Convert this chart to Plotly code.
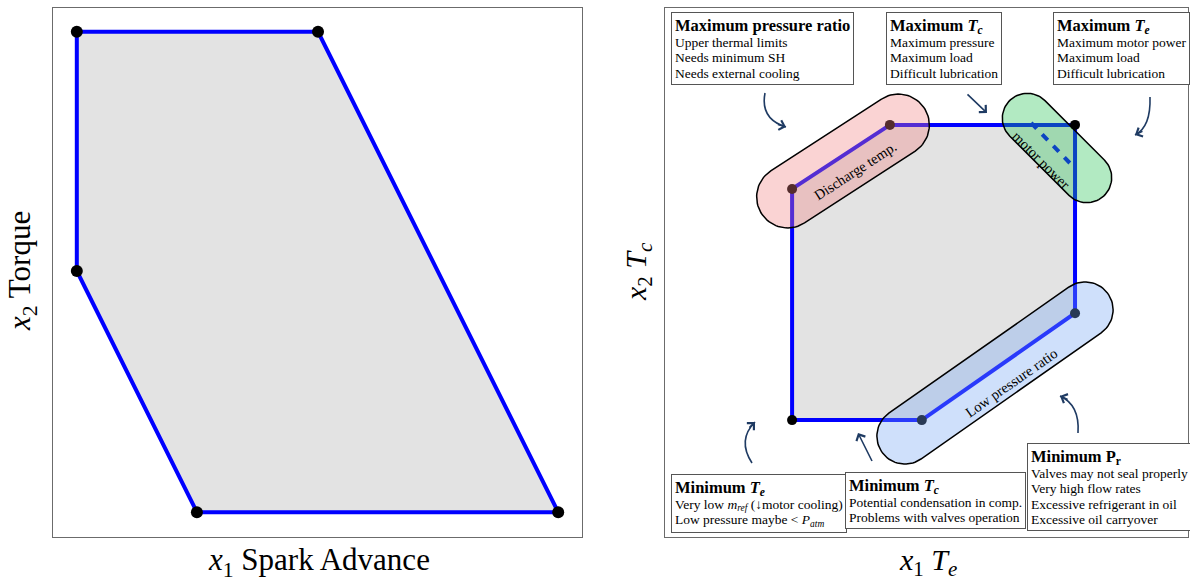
import numpy as np
import plotly.graph_objects as go

# ---------------- data ----------------
# Left panel: engine operating envelope (spark advance vs torque)
spark = [4.5, 50.1, 95.5, 27.2, 4.5]
torque = [95.5, 95.5, 4.7, 4.7, 50.3]

# Right panel: compressor operating envelope (Te vs Tc)
te = [24.3, 43.0, 78.4, 78.4, 49.1, 24.3]
tc = [65.8, 77.9, 77.9, 42.3, 22.1, 22.1]

# motor-power limit (dashed)
motor_te = [70.0, 77.4]
motor_tc = [78.3, 70.7]

# ---------------- layout constants ----------------
W, H = 1190, 583
LX0, LX1 = 53, 582
RX0, RX1 = 665, 1188
YT, YB = 8, 537
FONT = "Liberation Serif"
BLUE = "#0000ff"
NAVY = "#1f3b63"


def px2paper(x, y):
    return x / W, 1 - y / H


def px2right(x, y):
    return (x - RX0) / (RX1 - RX0) * 100, (YB - y) / (YB - YT) * 100


def capsule(cx, cy, ang_deg, half_len, rad, n=40):
    """Stadium outline in screen pixels, returned in right-axis data units."""
    a = np.deg2rad(ang_deg)
    u = np.array([np.cos(a), np.sin(a)])
    c = np.array([cx, cy])
    pts = []
    for sgn, start in ((1, a - np.pi / 2), (-1, a + np.pi / 2)):
        cc = c + sgn * half_len * u
        for t in np.linspace(start, start + np.pi, n):
            pts.append(cc + rad * np.array([np.cos(t), np.sin(t)]))
    pts.append(pts[0])
    xs, ys = zip(*[px2right(p[0], p[1]) for p in pts])
    return list(xs), list(ys)


def note(title, lines):
    head = f"<span style='font-size:16.5px'><b>{title}</b></span>"
    body = [f"<span style='font-size:13.5px'>{ln}</span>" for ln in lines]
    return "<br>".join([head] + body)


fig = go.Figure()

# ---- left envelope ----
fig.add_trace(go.Scatter(
    x=spark + spark[:1], y=torque + torque[:1], mode="lines",
    fill="toself", fillcolor="#e3e3e3",
    line=dict(color=BLUE, width=4), xaxis="x", yaxis="y", hoverinfo="skip"))
fig.add_trace(go.Scatter(
    x=spark, y=torque, mode="markers",
    marker=dict(color="black", size=12), xaxis="x", yaxis="y"))

# ---- right envelope ----
fig.add_trace(go.Scatter(
    x=te + te[:1], y=tc + tc[:1], mode="lines",
    fill="toself", fillcolor="#e3e3e3",
    line=dict(color=BLUE, width=4), xaxis="x2", yaxis="y2", hoverinfo="skip"))
fig.add_trace(go.Scatter(
    x=motor_te, y=motor_tc, mode="lines",
    line=dict(color=BLUE, width=4, dash="8px,8px"), xaxis="x2", yaxis="y2"))
fig.add_trace(go.Scatter(
    x=te, y=tc, mode="markers",
    marker=dict(color="black", size=10), xaxis="x2", yaxis="y2"))

# ---- constraint regions ----
regions = [
    # (center px, angle, half length, radius, fill)
    ((843, 161), -33, 66, 31, "rgba(241,129,129,0.35)"),
    ((1057, 148), 45, 42, 25, "rgba(35,195,81,0.35)"),
    ((995, 373), -35, 110, 28, "rgba(118,166,244,0.35)"),
]
for (cx, cy), ang, hl, rad, col in regions:
    xs, ys = capsule(cx, cy, ang, hl, rad)
    fig.add_trace(go.Scatter(
        x=xs, y=ys, mode="lines", fill="toself", fillcolor=col,
        line=dict(color="black", width=1.5), xaxis="x2", yaxis="y2",
        hoverinfo="skip"))

annotations = []

# region labels
for text, (lx, ly), ang in [("Discharge temp.", (855, 171), -33),
                            ("motor power", (1041, 160), 45),
                            ("Low pressure ratio", (1011, 383), -35)]:
    dx, dy = px2right(lx, ly)
    annotations.append(dict(x=dx, y=dy, xref="x2", yref="y2", text=text,
                            showarrow=False, textangle=ang,
                            font=dict(family=FONT, size=14.5, color="black")))

# note boxes
notes = [
    ((671, 12), note("Maximum pressure ratio",
                     ["Upper thermal limits", "Needs minimum SH",
                      "Needs external cooling"])),
    ((886, 12), note("Maximum <i>T<sub>c</sub></i>",
                     ["Maximum pressure", "Maximum load", "Difficult lubrication"])),
    ((1053, 12), note("Maximum <i>T<sub>e</sub></i>",
                      ["Maximum motor power", "Maximum load",
                       "Difficult lubrication"])),
    ((671, 474), note("Minimum <i>T<sub>e</sub></i>",
                      ["Very low <i>m<sub>ref</sub></i> (↓motor cooling)",
                       "Low pressure maybe &lt; <i>P<sub>atm</sub></i>"])),
    ((845, 472), note("Minimum <i>T<sub>c</sub></i>",
                      ["Potential condensation in comp.",
                       "Problems with valves operation"])),
    ((1027, 443), note("Minimum P<sub>r</sub>",
                       ["Valves may not seal properly", "Very high flow rates",
                        "Excessive refrigerant in oil", "Excessive oil carryover"])),
]
for (bx, by), text in notes:
    x, y = px2paper(bx, by)
    annotations.append(dict(x=x, y=y, xref="paper", yref="paper",
                            xanchor="left", yanchor="top", align="left",
                            text=text, showarrow=False,
                            bordercolor="#555555", borderwidth=1, borderpad=3,
                            bgcolor="white",
                            font=dict(family=FONT, size=12, color="black")))

# pointer arrows: curved ones (start, control, tip) and straight ones (start, tip)
shapes = []
curved = [((765, 93), (760, 119), (786, 127)),
          ((1150, 97), (1151, 127), (1135, 135)),
          ((752, 463), (737, 440), (755, 422)),
          ((1078, 433), (1080, 405), (1060, 396))]
straight = [((966, 93), (987, 113)), ((873, 463), (858, 433))]
for (sx, sy), (cx, cy), (tx, ty) in curved:
    p0, p1, p2 = px2paper(sx, sy), px2paper(cx, cy), px2paper(tx, ty)
    shapes.append(dict(type="path", xref="paper", yref="paper",
                       path=f"M {p0[0]},{p0[1]} Q {p1[0]},{p1[1]} {p2[0]},{p2[1]}",
                       line=dict(color=NAVY, width=1.6)))
    v = np.array([cx - tx, cy - ty], float)
    v = v / np.linalg.norm(v) * 10
    x, y = px2paper(tx, ty)
    annotations.append(dict(x=x, y=y, xref="paper", yref="paper",
                            ax=v[0], ay=v[1], text=" ", showarrow=True,
                            arrowhead=4, arrowsize=1.2, arrowwidth=1.6,
                            arrowcolor=NAVY, standoff=0, font=dict(size=1)))
for (sx, sy), (tx, ty) in straight:
    x, y = px2paper(tx, ty)
    annotations.append(dict(x=x, y=y, xref="paper", yref="paper",
                            ax=sx - tx, ay=sy - ty, text=" ", showarrow=True,
                            arrowhead=4, arrowsize=1.2, arrowwidth=1.6,
                            arrowcolor=NAVY, standoff=0, font=dict(size=1)))

# axis titles
titles = [
    ("<i>x</i><sub>1</sub> Spark Advance", (319, 562), 0, 31),
    ("<i>x</i><sub>2</sub> Torque", (22, 271), -90, 31),
    ("<i>x</i><sub>1</sub> <i>T<sub>e</sub></i>", (928, 562), 0, 30),
    ("<i>x</i><sub>2</sub> <i>T<sub>c</sub></i>", (638, 272), -90, 30),
]
for text, (tx, ty), ang, fs in titles:
    x, y = px2paper(tx, ty)
    annotations.append(dict(x=x, y=y, xref="paper", yref="paper",
                            xanchor="center", yanchor="middle", text=text,
                            textangle=ang, showarrow=False,
                            font=dict(family=FONT, size=fs, color="black")))

axis_common = dict(range=[0, 100], showgrid=False, zeroline=False,
                   showticklabels=False, ticks="", showline=True, mirror=True,
                   linecolor="#6b6b6b", linewidth=1, fixedrange=True)
ydom = [1 - YB / H, 1 - YT / H]
fig.update_layout(
    width=W, height=H, margin=dict(l=0, r=0, t=0, b=0),
    paper_bgcolor="white", plot_bgcolor="white", showlegend=False,
    xaxis=dict(domain=[LX0 / W, LX1 / W], anchor="y", **axis_common),
    yaxis=dict(domain=ydom, anchor="x", **axis_common),
    xaxis2=dict(domain=[RX0 / W, RX1 / W], anchor="y2", **axis_common),
    yaxis2=dict(domain=ydom, anchor="x2", **axis_common),
    annotations=annotations, shapes=shapes,
)

fig.write_html("out.html")
